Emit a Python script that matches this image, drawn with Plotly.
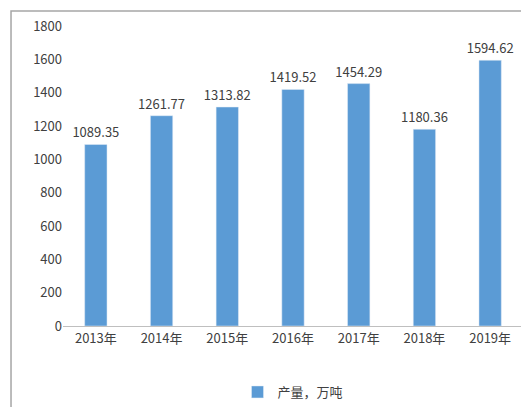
import plotly.graph_objects as go

years = ["2013年", "2014年", "2015年", "2016年", "2017年", "2018年", "2019年"]
output = [1089.35, 1261.77, 1313.82, 1419.52, 1454.29, 1180.36, 1594.62]
yticks = list(range(0, 1801, 200))

fig = go.Figure(go.Bar(
    x=years, y=output, name="产量，万吨", marker_color="#5B9BD5",
    text=[f"{v:.2f}" for v in output], textposition="outside",
    textfont=dict(size=13, color="#404040"), cliponaxis=False,
    constraintext="none",
))
fig.update_layout(
    width=529, height=407, paper_bgcolor="white", plot_bgcolor="white",
    margin=dict(l=55, r=14, t=18, b=89, autoexpand=False),
    font=dict(family="Noto Sans CJK SC, DejaVu Sans", size=13, color="#404040"),
    bargap=0.66, showlegend=True,
    legend=dict(orientation="h", x=0.5, xanchor="center", y=-0.17, yanchor="top", font=dict(size=13)),
    xaxis=dict(showline=True, linecolor="#bfbfbf", ticks="", automargin=False),
    yaxis=dict(range=[0, 1800], tickvals=yticks, showgrid=False, zeroline=False, showline=False, automargin=False),
    shapes=[dict(type="rect", xref="paper", yref="paper", x0=-0.113, x1=1.022, y0=-0.283, y1=1.05,
                 line=dict(color="#a6a6a6", width=1.5))],
)
fig.write_html("out.html")
